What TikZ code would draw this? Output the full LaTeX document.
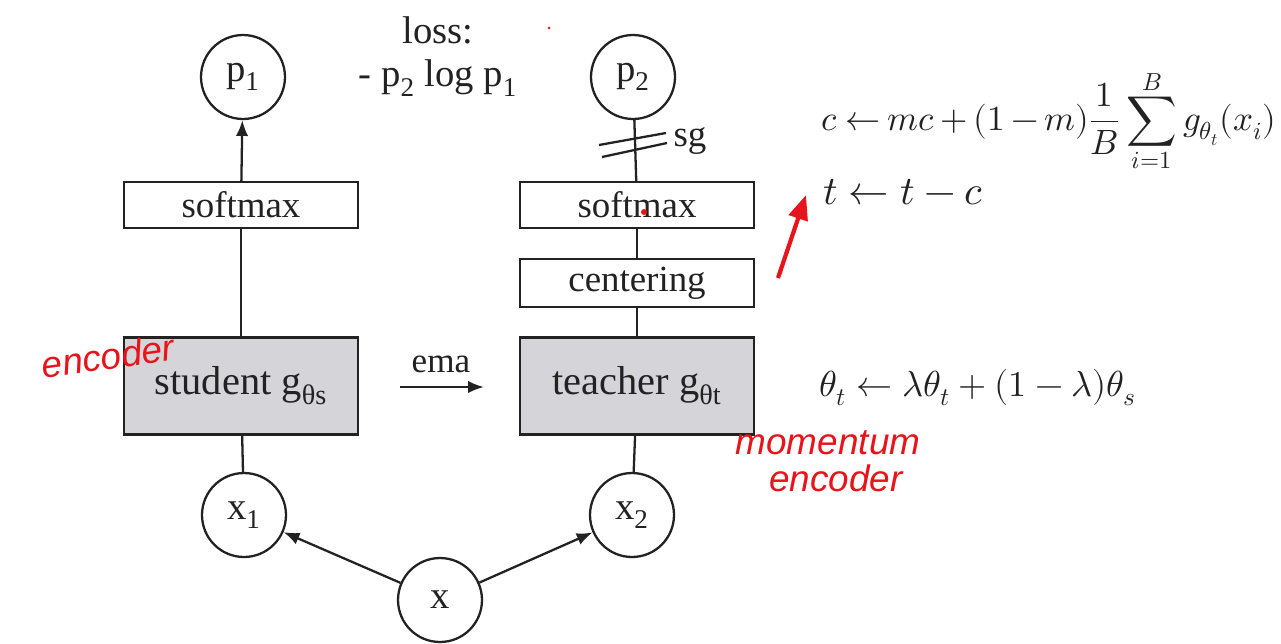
\documentclass[tikz,border=0pt]{standalone}
\usepackage{fontspec}
\usepackage{unicode-math}
\setmainfont{Liberation Serif}
\setmathfont{Latin Modern Math}
\newfontfamily\handfont{Liberation Sans}
\usetikzlibrary{arrows.meta,positioning}
\definecolor{boxgray}{HTML}{D5D4D8}
\definecolor{inkred}{HTML}{E8141B}
\definecolor{ink}{HTML}{222222}

\begin{document}
\begin{tikzpicture}
 [x=0.02cm, y=-0.02cm, line width=1.3pt, draw=ink, text=ink,
  block node/.style={draw, minimum width=4.68cm, minimum height=0.92cm, inner sep=0pt, font=\fontsize{21}{25}\selectfont},
  enc node/.style={block node, fill=boxgray, minimum height=1.94cm, font=\fontsize{23}{27}\selectfont},
  var node/.style={circle, draw, minimum size=1.68cm, inner sep=0pt, font=\fontsize{22}{26}\selectfont},
  eq node/.style={anchor=west, inner sep=0pt, font=\fontsize{23}{28}\selectfont},
  hand node/.style={text=inkred, font=\handfont\itshape\fontsize{21}{24}\selectfont}]

\useasboundingbox (0,0) rectangle (1281,643);

% student branch
\node[var node] (p1) at (243,77) {p\textsubscript{1}};
\node[block node] (soft1) at (241,205) {softmax};
\node[enc node] (stud) at (241,386) {student g\textsubscript{θs}};
\node[var node] (x1) at (244,515) {x\textsubscript{1}};

% teacher branch
\node[var node] (p2) at (633,77) {p\textsubscript{2}};
\node[block node] (soft2) at (637,205) {softmax};
\node[block node, minimum height=0.96cm] (cent) at (637,283) {centering};
\node[enc node] (teach) at (637,386) {teacher g\textsubscript{θt}};
\node[var node] (x2) at (632,515) {x\textsubscript{2}};

\node[var node] (x) at (440,600) {x};

% loss
\node[font=\fontsize{22}{26}\selectfont] (loss) at (438,30) {loss:};
\node[font=\fontsize{22}{26}\selectfont] (lossf) at (438,78) {- p\textsubscript{2} log p\textsubscript{1}};

% ema
\coordinate (ema1) at (400,387);
\coordinate (ema2) at (484,387);
\node[font=\fontsize{20}{24}\selectfont] (ema) at (441,364) {ema};

\path
  (soft1) edge [-{Latex[length=9pt,width=7pt]}] (p1)
  (stud) edge (soft1)
  (x1) edge (stud)
  (x) edge [-{Latex[length=9pt,width=7pt]}] (x1)
  (x) edge [-{Latex[length=9pt,width=7pt]}] (x2)
  (soft2) edge (p2)
  (cent) edge (soft2)
  (teach) edge (cent)
  (x2) edge (teach)
  (ema1) edge [-{Latex[length=9pt,width=7pt]}] (ema2);

% stop gradient
\draw (599,145) -- (666,133);
\draw (602,157) -- (667,143);
\node[font=\fontsize{21}{25}\selectfont] (sg) at (690,141) {sg};

% update rules
\node[eq node, font=\fontsize{20}{25}\selectfont] (ceq) at (820,121)
  {\thickmuskip=4mu\medmuskip=3mu$\displaystyle c \leftarrow mc + (1-m)\frac{1}{B}\sum_{i=1}^{B} g_{\theta_t}(x_i)$};
\node[eq node] (teq) at (822,192) {$t \leftarrow t - c$};
\node[eq node, font=\fontsize{20.6}{25}\selectfont] (theq) at (818,388) {$\theta_t \leftarrow \lambda\theta_t + (1-\lambda)\theta_s$};

% red annotations
\coordinate (red1) at (778,278);
\coordinate (red2) at (806,195);
\path (red1) edge [draw=inkred, line width=2.4pt, -{Triangle[length=14pt,width=11pt]}] (red2);
\node[hand node, rotate=8] (enc) at (108,356) {encoder};
\node[hand node] (mom) at (828,443) {momentum};
\node[hand node] (menc) at (836,478) {encoder};
\fill[inkred] (644,212) circle (3);
\fill[inkred] (549,28) circle (1.5);

\end{tikzpicture}
\end{document}
